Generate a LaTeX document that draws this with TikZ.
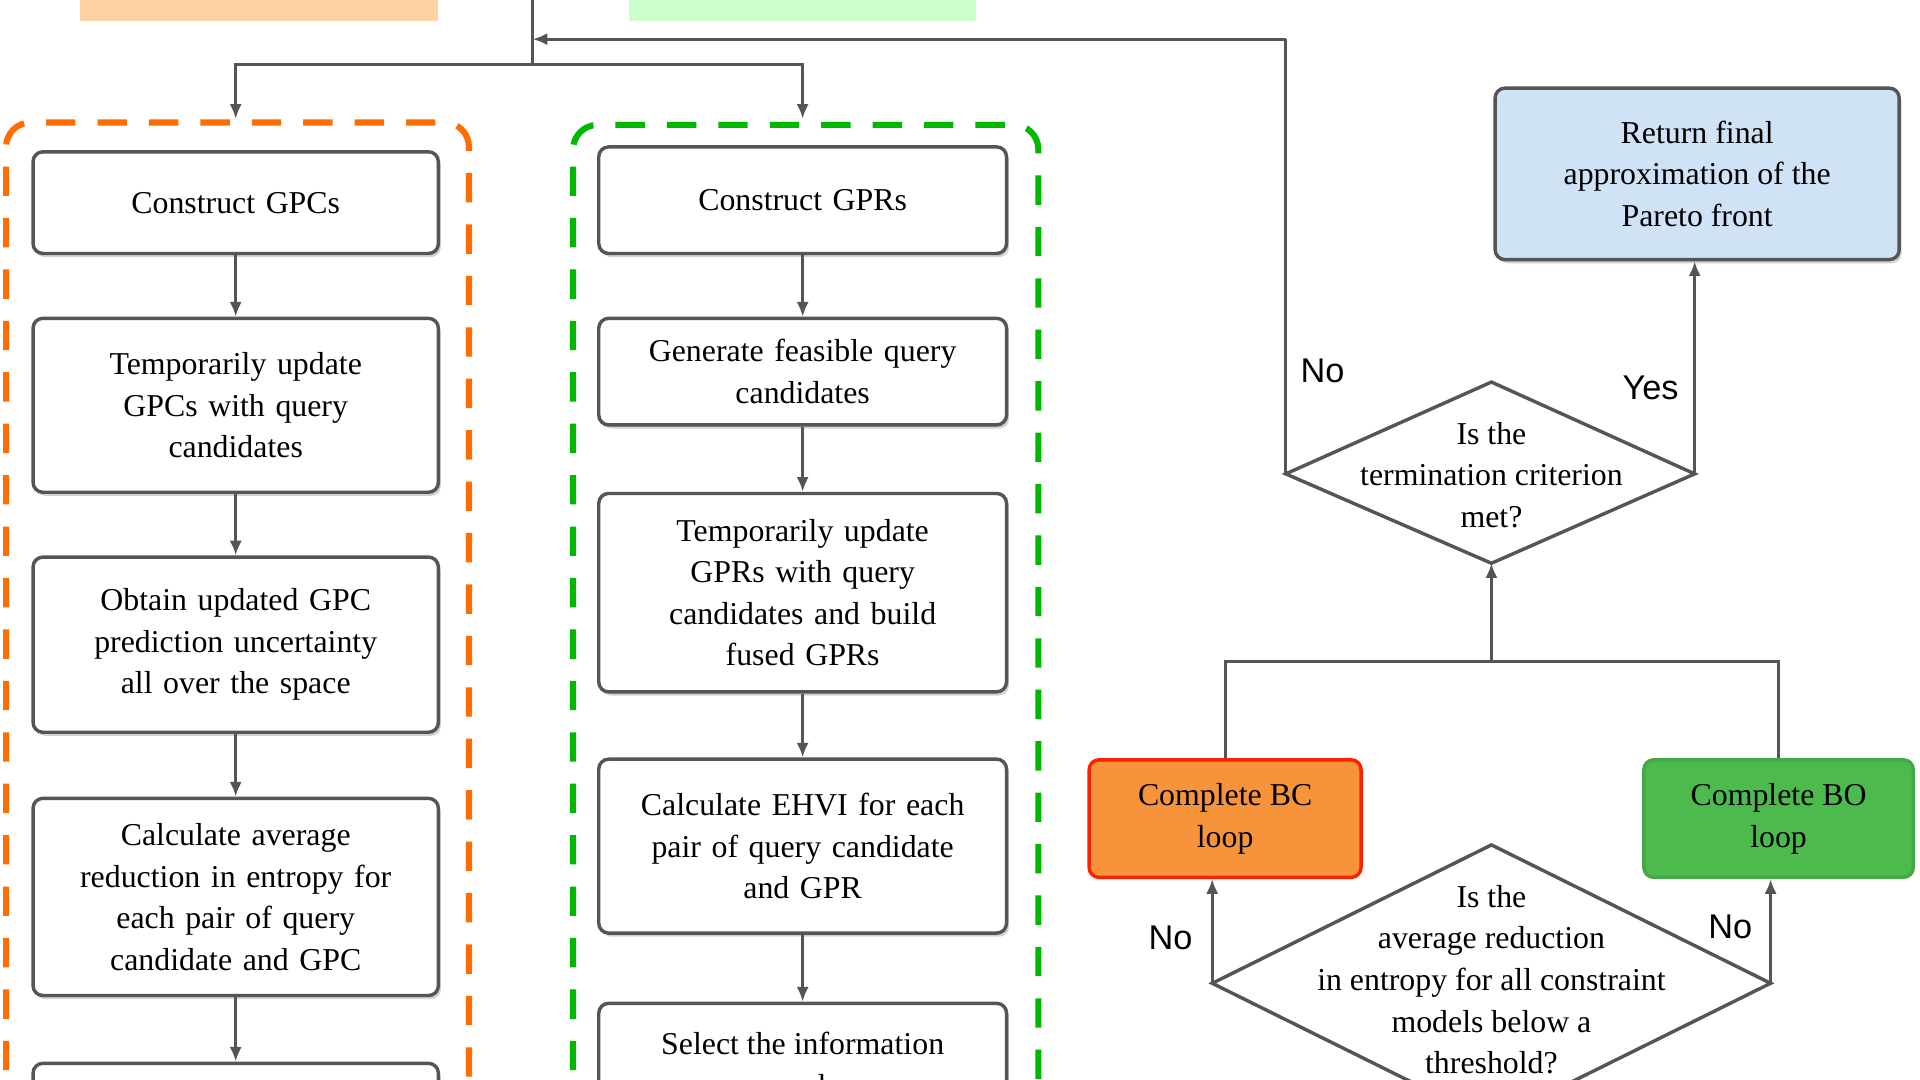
\documentclass[tikz,border=0pt]{standalone}
\usepackage{fontspec}
\setmainfont{Liberation Serif}
\newfontfamily\lab{Liberation Sans}
\usetikzlibrary{arrows.meta,shadows}
\definecolor{edge}{HTML}{555555}
\definecolor{bcfill}{HTML}{F7933A}
\definecolor{bofill}{HTML}{4DBA4D}
\definecolor{retfill}{HTML}{CFE2F6}
\begin{document}
\begin{tikzpicture}[x=0.5pt,y=-0.5pt,
 box/.style={draw=edge,line width=1.4pt,rounded corners=4pt,fill=white,align=center,
   text width=150pt,font=\fontsize{13}{17}\selectfont,inner sep=2pt,
   drop shadow={shadow xshift=1pt,shadow yshift=-1.5pt,fill=black!35}},
 con/.style={draw=edge,line width=1.3pt,-{Latex[length=6pt,width=5pt]}},
 ln/.style={draw=edge,line width=1.3pt},
 dia/.style={draw=edge,line width=1.4pt,fill=white},
 dtxt/.style={align=center,font=\fontsize{13}{17}\selectfont},
 lbl/.style={font=\lab\fontsize{14}{16}\selectfont}]
\useasboundingbox (0,0) rectangle (1568,882);
\clip (0,0) rectangle (1568,882);
% top partial boxes
\fill[orange!35] (65,-30) rectangle (358,17);
\fill[green!20] (514,-30) rectangle (797,17);
% dashed containers
\draw[orange!85!red,line width=2.5pt,dash pattern=on 12pt off 9pt,rounded corners=10pt] (5,1000) -- (5,100) -- (383,100) -- (383,1000);
\draw[green!65!black!80!green,line width=2.5pt,dash pattern=on 12pt off 9pt,rounded corners=10pt] (468,1000) -- (468,102) -- (848,102) -- (848,1000);
% left column
\node[box,minimum width=165.5pt,minimum height=41.5pt] (a1) at (192.5,165.5) {Construct GPCs};
\node[box,minimum width=165.5pt,minimum height=71pt] (a2) at (192.5,331) {Temporarily update\\GPCs with query\\candidates};
\node[box,minimum width=165.5pt,minimum height=71.5pt] (a3) at (192.5,526.5) {Obtain updated GPC\\prediction uncertainty\\all over the space};
\node[box,minimum width=165.5pt,minimum height=80.5pt] (a4) at (192.5,732.5) {Calculate average\\reduction in entropy for\\each pair of query\\candidate and GPC};
\node[box,minimum width=165.5pt,minimum height=63pt,anchor=north] (a5) at (192.5,867) {};
\draw[con] (a1) -- (a2); \draw[con] (a2) -- (a3); \draw[con] (a3) -- (a4); \draw[con] (a4) -- (a5);
% middle column
\node[box,minimum width=166.5pt,minimum height=43.5pt] (b1) at (655.5,163.5) {Construct GPRs};
\node[box,minimum width=166.5pt,minimum height=43.5pt] (b2) at (655.5,303.5) {Generate feasible query\\candidates};
\node[box,minimum width=166.5pt,minimum height=62pt,anchor=north] (b5) at (655.5,818) {};
\node[dtxt,anchor=north] (b5t) at (655.5,836) {Select the information\\query and query};
\node[box,minimum width=166.5pt,minimum height=81pt] (b3) at (655.5,484) {Temporarily update\\GPRs with query\\candidates and build\\fused GPRs};
\node[box,minimum width=166.5pt,minimum height=71pt] (b4) at (655.5,691) {Calculate EHVI for each\\pair of query candidate\\and GPR};
\draw[con] (b1) -- (b2); \draw[con] (b2) -- (b3); \draw[con] (b3) -- (b4); \draw[con] (b4) -- (b5);
% top distribution
\coordinate (t0) at (435,-5);
\coordinate (tj) at (435,53);
\draw[ln] (t0) -- (tj);
\draw[con] (tj) -| (a1.north |- 0,97);
\draw[con] (tj) -| (b1.north |- 0,97);
% right side
\node[draw=edge,line width=1.4pt,rounded corners=4pt,fill=retfill,align=center,
  minimum width=165pt,minimum height=70pt,font=\fontsize{13}{17}\selectfont,
  drop shadow={shadow xshift=1pt,shadow yshift=-1.5pt,fill=black!35}] (ret) at (1386,142) {Return final\\approximation of the\\Pareto front};
\coordinate (d1l) at (1050,387); \coordinate (d1r) at (1384,387);
\coordinate (d1t) at (1218,312); \coordinate (d1b) at (1218,460);
\draw[dia] (d1l) -- (d1t) -- (d1r) -- (d1b) -- cycle;
\node[dtxt] (d1) at (1218,388) {Is the\\termination criterion\\met?};
\draw[con] (d1r) -- (d1r |- ret.south);
\coordinate (back) at (1050,32);
\draw[ln] (d1l) -- (back);
\draw[con] (back) -- (tj |- back);
\node[lbl] at (1080,303) {No};
\node[lbl] at (1348,317) {Yes};
\node[draw=red!75!orange,line width=1.4pt,rounded corners=4pt,fill=bcfill,align=center,
  minimum width=111pt,minimum height=48pt,font=\fontsize{13}{17}\selectfont] (bc) at (1000.5,668.5) {Complete BC\\loop};
\node[draw=bofill!90!black,line width=1.4pt,rounded corners=4pt,fill=bofill,align=center,
  minimum width=110pt,minimum height=48pt,font=\fontsize{13}{17}\selectfont] (bo) at (1452.5,668.5) {Complete BO\\loop};
\coordinate (mj) at (1218,540);
\draw[ln] (bc.north) |- (mj) -| (bo.north);
\draw[con] (mj) -- (d1b);
\coordinate (d2l) at (990,803); \coordinate (d2r) at (1446,803);
\coordinate (d2t) at (1218,690); \coordinate (d2b) at (1218,916);
\draw[dia] (d2l) -- (d2t) -- (d2r) -- (d2b) -- cycle;
\node[dtxt] (d2) at (1218,800) {Is the\\average reduction\\in entropy for all constraint\\models below a\\threshold?};
\draw[con] (d2l) -- (d2l |- bc.south);
\draw[con] (d2r) -- (d2r |- bo.south);
\node[lbl] at (956,766) {No};
\node[lbl] at (1413,757) {No};
\end{tikzpicture}
\end{document}
